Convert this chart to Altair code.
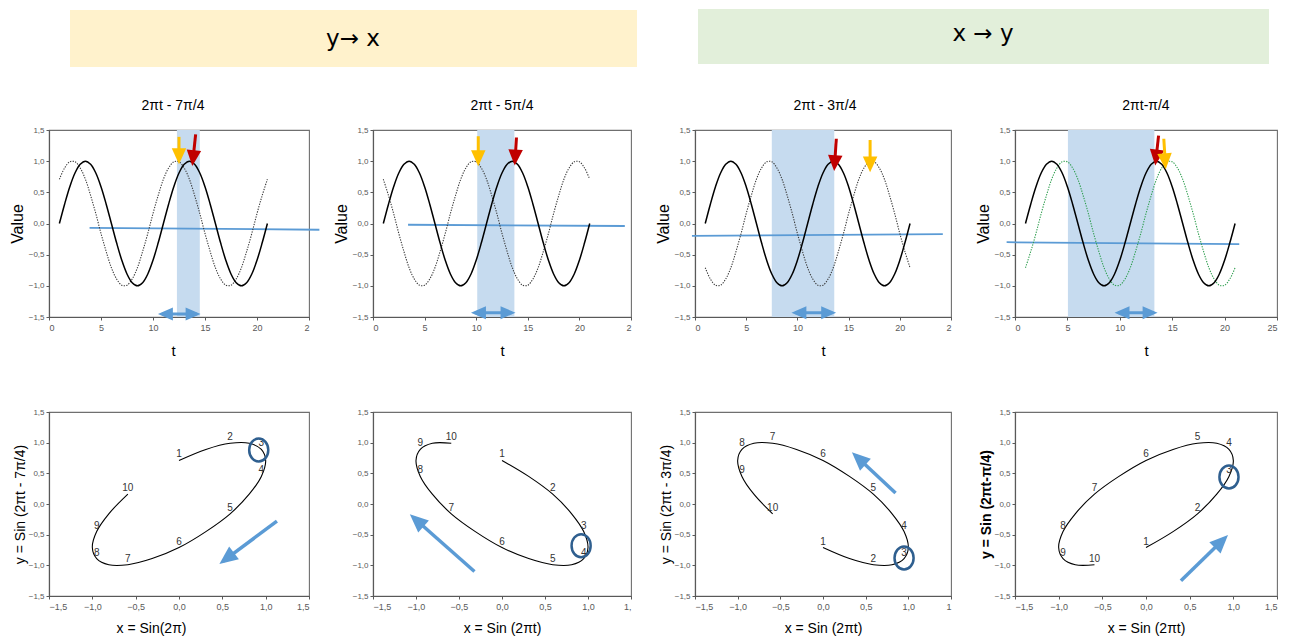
import altair as alt
import pandas as pd

# ---------------- data ----------------
T = [1.0, 1.5, 2.0, 2.5, 3.0, 3.5, 4.0, 4.5, 5.0, 5.5, 6.0, 6.5, 7.0, 7.5, 8.0, 8.5,
     9.0, 9.5, 10.0, 10.5, 11.0, 11.5, 12.0, 12.5, 13.0, 13.5, 14.0, 14.5, 15.0, 15.5,
     16.0, 16.5, 17.0, 17.5, 18.0, 18.5, 19.0, 19.5, 20.0, 20.5, 21.0]

SOLID = [0.0, 0.31, 0.59, 0.81, 0.95, 1.0, 0.95, 0.81, 0.59, 0.31,
         0.0, -0.31, -0.59, -0.81, -0.95, -1.0, -0.95, -0.81, -0.59, -0.31,
         0.0, 0.31, 0.59, 0.81, 0.95, 1.0, 0.95, 0.81, 0.59, 0.31,
         0.0, -0.31, -0.59, -0.81, -0.95, -1.0, -0.95, -0.81, -0.59, -0.31, 0.0]

DOT_7PI4 = [0.71, 0.89, 0.99, 0.99, 0.89, 0.71, 0.45, 0.16, -0.16, -0.45,
            -0.71, -0.89, -0.99, -0.99, -0.89, -0.71, -0.45, -0.16, 0.16, 0.45,
            0.71, 0.89, 0.99, 0.99, 0.89, 0.71, 0.45, 0.16, -0.16, -0.45,
            -0.71, -0.89, -0.99, -0.99, -0.89, -0.71, -0.45, -0.16, 0.16, 0.45, 0.71]

DOT_5PI4 = [0.71, 0.45, 0.16, -0.16, -0.45, -0.71, -0.89, -0.99, -0.99, -0.89,
            -0.71, -0.45, -0.16, 0.16, 0.45, 0.71, 0.89, 0.99, 0.99, 0.89,
            0.71, 0.45, 0.16, -0.16, -0.45, -0.71, -0.89, -0.99, -0.99, -0.89,
            -0.71, -0.45, -0.16, 0.16, 0.45, 0.71, 0.89, 0.99, 0.99, 0.89, 0.71]

DOT_3PI4 = [-0.71, -0.89, -0.99, -0.99, -0.89, -0.71, -0.45, -0.16, 0.16, 0.45,
            0.71, 0.89, 0.99, 0.99, 0.89, 0.71, 0.45, 0.16, -0.16, -0.45,
            -0.71, -0.89, -0.99, -0.99, -0.89, -0.71, -0.45, -0.16, 0.16, 0.45,
            0.71, 0.89, 0.99, 0.99, 0.89, 0.71, 0.45, 0.16, -0.16, -0.45, -0.71]

DOT_PI4 = [-0.71, -0.45, -0.16, 0.16, 0.45, 0.71, 0.89, 0.99, 0.99, 0.89,
           0.71, 0.45, 0.16, -0.16, -0.45, -0.71, -0.89, -0.99, -0.99, -0.89,
           -0.71, -0.45, -0.16, 0.16, 0.45, 0.71, 0.89, 0.99, 0.99, 0.89,
           0.71, 0.45, 0.16, -0.16, -0.45, -0.71, -0.89, -0.99, -0.99, -0.89, -0.71]

DOTTED = [DOT_7PI4, DOT_5PI4, DOT_3PI4, DOT_PI4]

BANNER_TEXT = ["y\u2192 x", "x \u2192 y"]
TOP_TITLES = ["2\u03c0t - 7\u03c0/4", "2\u03c0t - 5\u03c0/4", "2\u03c0t - 3\u03c0/4", "2\u03c0t-\u03c0/4"]

BAND_T0 = [12.3, 10.1, 7.5, 5.05]
BAND_T1 = [14.5, 13.7, 13.6, 13.3]
TREND_T0 = [3.9, 3.4, -0.3, -0.8]
TREND_T1 = [26.0, 24.4, 24.2, 21.4]
TREND_V0 = [-0.07, -0.02, -0.20, -0.30]
TREND_V1 = [-0.10, -0.04, -0.17, -0.33]
SPAN_T0 = [10.85, 9.87, 9.8, 9.87]
SPAN_T1 = [14.2, 13.43, 13.4, 13.23]
SPAN_V = [-1.45, -1.43, -1.43, -1.43]
YEL_T0 = [12.5, 10.2, 17.1, 14.2]
YEL_T1 = [12.5, 10.2, 17.1, 14.35]
YEL_V0 = [1.39, 1.40, 1.34, 1.36]
YEL_V1 = [1.02, 0.99, 0.89, 0.94]
RED_T0 = [14.1, 13.9, 13.8, 13.7]
RED_T1 = [13.82, 13.76, 13.62, 13.43]
RED_V0 = [1.43, 1.38, 1.36, 1.41]
RED_V1 = [0.99, 1.00, 0.91, 1.00]

BOTTOM_Y_TITLES = ["y = Sin (2\u03c0t - 7\u03c0/4)", "", "y = Sin (2\u03c0t - 3\u03c0/4)", "y = Sin (2\u03c0t-\u03c0/4)"]
BOTTOM_X_TITLES = ["x = Sin(2\u03c0)", "x = Sin (2\u03c0t)", "x = Sin (2\u03c0t)", "x = Sin (2\u03c0t)"]
POINT_LABELS = ["1", "2", "3", "4", "5", "6", "7", "8", "9", "10"]
RING_X = [0.92, 0.92, 0.95, 0.95]
RING_Y = [0.88, -0.68, -0.88, 0.44]
DIAG_X0 = [1.13, -0.32, 0.85, 0.40]
DIAG_Y0 = [-0.28, -1.10, 0.18, -1.25]
DIAG_X1 = [0.51, -1.03, 0.38, 0.90]
DIAG_Y1 = [-0.93, -0.22, 0.79, -0.56]

# ---------------- styles / layout ----------------
FONT = "Liberation Sans"
BANNER_FONT = "DejaVu Sans"
AXIS_GRAY = "#595959"
BAND_BLUE = "#C6DBEF"
ARROW_BLUE = "#5B9BD5"
YELLOW = "#FFC000"
RED = "#C00000"
RING_BLUE = "#2F5F8F"
DOT_COLORS = ["#3a3a3a", "#3a3a3a", "#3a3a3a", "#2E9E4E"]
HEAD = "M0.6,0L-1.6,-1L-1.6,1Z"
HEAD_WIDE = "M0.6,0L-1.7,-1L-1.7,1Z"
RING = "M-0.83,0A0.83,1,0,1,0,0.83,0A0.83,1,0,1,0,-0.83,0Z"
RED_ANGLE = [96, 93, 94, 96.5]
YEL_ANGLE = [90, 90, 90, 85.7]
DIAG_ANGLE = [142.6, 221.8, 222.6, 315.2]
TITLE_DX = [-6, 0, 2, 0]

COL_W = [260, 258, 256, 262]
TOP_H = 187
BOT_H = 184
Y_TICKS = [-1.5, -1.0, -0.5, 0.0, 0.5, 1.0, 1.5]
T_TICKS = [0, 5, 10, 15, 20, 25]
COMMA = "replace(format(datum.value, '.1f'), '.', ',')"


def arrow(df_vals, color, ang, X, Y, size, shape, width):
    df = pd.DataFrame(df_vals)
    shaft = alt.Chart(df).mark_rule(color=color, strokeWidth=width).encode(
        x=X("a0"), y=Y("b0"), x2="a1:Q", y2="b1:Q")
    head = alt.Chart(df).mark_point(shape=shape, filled=True, size=size, color=color,
                                    opacity=1, angle=ang, strokeWidth=0).encode(
        x=X("a1"), y=Y("b1"))
    return [shaft, head]


def top_cell(i):
    xs = alt.Scale(domain=[0, 25], nice=False, zero=False)
    ys = alt.Scale(domain=[-1.5, 1.5], nice=False, zero=False)
    x_expr = "format(datum.value, 'd')" if i == 3 else \
        "datum.value == 25 ? '2' : format(datum.value, 'd')"
    xkw = dict(values=T_TICKS, labelExpr=x_expr, title="t", titleFontSize=15, titleY=26,
               tickSize=3, labelPadding=3, labelFontSize=9)
    if i == 0:
        xkw["titleX"] = 124
    xax = alt.Axis(**xkw)
    yax = alt.Axis(values=Y_TICKS, labelExpr=COMMA, title="Value", titleFontSize=16,
                   titleX=-24, tickSize=3, labelPadding=2, labelFontSize=8)

    def X(f):
        return alt.X(f"{f}:Q", scale=xs, axis=xax)

    def Y(f):
        return alt.Y(f"{f}:Q", scale=ys, axis=yax)

    layers = []
    if i in (0, 2):
        one = pd.DataFrame({"label": [BANNER_TEXT[0] if i == 0 else BANNER_TEXT[1]]})
        if i == 0:
            box = dict(x=alt.value(21), x2=alt.value(588), y=alt.value(-120), y2=alt.value(-63))
            txt = dict(x=alt.value(304), y=alt.value(-91))
            fill = "#FFF2CC"
        else:
            box = dict(x=alt.value(3), x2=alt.value(574), y=alt.value(-121), y2=alt.value(-66))
            txt = dict(x=alt.value(288), y=alt.value(-96))
            fill = "#E2EFDA"
        layers.append(alt.Chart(one).mark_rect(color=fill).encode(**box))
        layers.append(alt.Chart(one).mark_text(fontSize=23, font=BANNER_FONT, color="black").encode(
            text="label:N", **txt))

    head_df = pd.DataFrame({"label": [TOP_TITLES[i]]})
    layers.append(alt.Chart(head_df).mark_text(fontSize=14, font=FONT, color="black").encode(
        text="label:N", x=alt.value(COL_W[i] / 2 + TITLE_DX[i]), y=alt.value(-24)))

    band_df = pd.DataFrame({"t0": [BAND_T0[i]], "t1": [BAND_T1[i]]})
    layers.append(alt.Chart(band_df).mark_rect(color=BAND_BLUE).encode(
        x=X("t0"), x2="t1:Q", y=alt.YDatum(-1.5, scale=ys, axis=yax), y2=alt.Y2Datum(1.5)))

    trend_df = pd.DataFrame({"t0": [TREND_T0[i]], "t1": [TREND_T1[i]],
                             "v0": [TREND_V0[i]], "v1": [TREND_V1[i]]})
    layers.append(alt.Chart(trend_df).mark_rule(color=ARROW_BLUE, strokeWidth=1.8).encode(
        x=X("t0"), x2="t1:Q", y=Y("v0"), y2="v1:Q"))

    curve = pd.DataFrame({"t": T, "solid": SOLID, "dot": DOTTED[i], "k": list(range(len(T)))})
    layers.append(alt.Chart(curve).mark_line(color=DOT_COLORS[i], strokeWidth=1.1,
                                             strokeDash=[1.3, 1.3], interpolate="catmull-rom").encode(
        x=X("t"), y=Y("dot"), order="k:Q"))
    layers.append(alt.Chart(curve).mark_line(color="black", strokeWidth=1.5,
                                             interpolate="catmull-rom").encode(
        x=X("t"), y=Y("solid"), order="k:Q"))

    span_df = pd.DataFrame({"a": [SPAN_T0[i]], "b": [SPAN_T1[i]], "v": [SPAN_V[i]]})
    layers.append(alt.Chart(span_df).mark_rule(color=ARROW_BLUE, strokeWidth=3).encode(
        x=X("a"), x2="b:Q", y=Y("v")))
    layers.append(alt.Chart(span_df).mark_point(shape=HEAD_WIDE, filled=True, size=169,
                                                color=ARROW_BLUE, opacity=1, angle=0,
                                                strokeWidth=0).encode(x=X("b"), y=Y("v")))
    layers.append(alt.Chart(span_df).mark_point(shape=HEAD_WIDE, filled=True, size=169,
                                                color=ARROW_BLUE, opacity=1, angle=180,
                                                strokeWidth=0).encode(x=X("a"), y=Y("v")))

    layers += arrow({"a0": [RED_T0[i]], "b0": [RED_V0[i]], "a1": [RED_T1[i]], "b1": [RED_V1[i]]},
                    RED, RED_ANGLE[i], X, Y, 210, HEAD, 3)
    layers += arrow({"a0": [YEL_T0[i]], "b0": [YEL_V0[i]], "a1": [YEL_T1[i]], "b1": [YEL_V1[i]]},
                    YELLOW, YEL_ANGLE[i], X, Y, 210, HEAD, 3)

    return alt.layer(*layers).properties(width=COL_W[i], height=TOP_H)


def bottom_cell(i):
    xs = alt.Scale(domain=[-1.5, 1.5], nice=False, zero=False)
    ys = alt.Scale(domain=[-1.5, 1.5], nice=False, zero=False)
    if i == 1:
        x_expr = "datum.value == 1.5 ? '1,' : " + COMMA
    elif i == 2:
        x_expr = "datum.value == 1.5 ? '1' : " + COMMA
    else:
        x_expr = COMMA
    xkw = dict(values=Y_TICKS, labelExpr=x_expr, title=BOTTOM_X_TITLES[i], titleFontSize=14,
               titleY=25, tickSize=3, labelPadding=3, labelFontSize=9)
    if i == 0:
        xkw["titleX"] = 102
    xax = alt.Axis(**xkw)
    yax = alt.Axis(values=Y_TICKS, labelExpr=COMMA, title=BOTTOM_Y_TITLES[i], titleFontSize=14,
                   titleX=-22, tickSize=3, labelPadding=2, labelFontSize=8,
                   titleFontWeight="bold" if i == 3 else "normal")

    def X(f):
        return alt.X(f"{f}:Q", scale=xs, axis=xax)

    def Y(f):
        return alt.Y(f"{f}:Q", scale=ys, axis=yax)

    n = 19
    curve = pd.DataFrame({"x": SOLID[:n], "y": DOTTED[i][:n], "k": list(range(n))})
    pts = pd.DataFrame({"x": SOLID[:n:2], "y": DOTTED[i][:n:2], "lab": POINT_LABELS})
    layers = [
        alt.Chart(curve).mark_line(color="black", strokeWidth=1.1, interpolate="catmull-rom").encode(
            x=X("x"), y=Y("y"), order="k:Q"),
        alt.Chart(pts).mark_text(fontSize=10, font=FONT, color="#333333", baseline="bottom",
                                 dy=-1).encode(x=X("x"), y=Y("y"), text="lab:N"),
        alt.Chart(pd.DataFrame({"x": [RING_X[i]], "y": [RING_Y[i]]})).mark_point(
            shape=RING, filled=False, size=529, color=RING_BLUE, strokeWidth=2.5, opacity=1).encode(
            x=X("x"), y=Y("y")),
    ]
    layers += arrow({"a0": [DIAG_X0[i]], "b0": [DIAG_Y0[i]], "a1": [DIAG_X1[i]], "b1": [DIAG_Y1[i]]},
                    ARROW_BLUE, DIAG_ANGLE[i], X, Y, 256, HEAD_WIDE, 3.5)
    return alt.layer(*layers).properties(width=COL_W[i], height=BOT_H)


cells = [top_cell(i) for i in range(4)] + [bottom_cell(i) for i in range(4)]

chart = alt.concat(
    *cells, columns=4, spacing={"row": 95, "column": 64}, bounds="flush", align="each"
).properties(padding=0).configure_view(
    stroke="#6F6F6F", strokeWidth=1.1
).configure_axis(
    grid=False, labelFont=FONT, titleFont=FONT, labelColor=AXIS_GRAY, domainColor=AXIS_GRAY,
    tickColor=AXIS_GRAY, domainWidth=1.2, titleColor="black", titleFontWeight="normal"
)

chart.save("out.html", embed_options={"renderer": "svg", "actions": False})
